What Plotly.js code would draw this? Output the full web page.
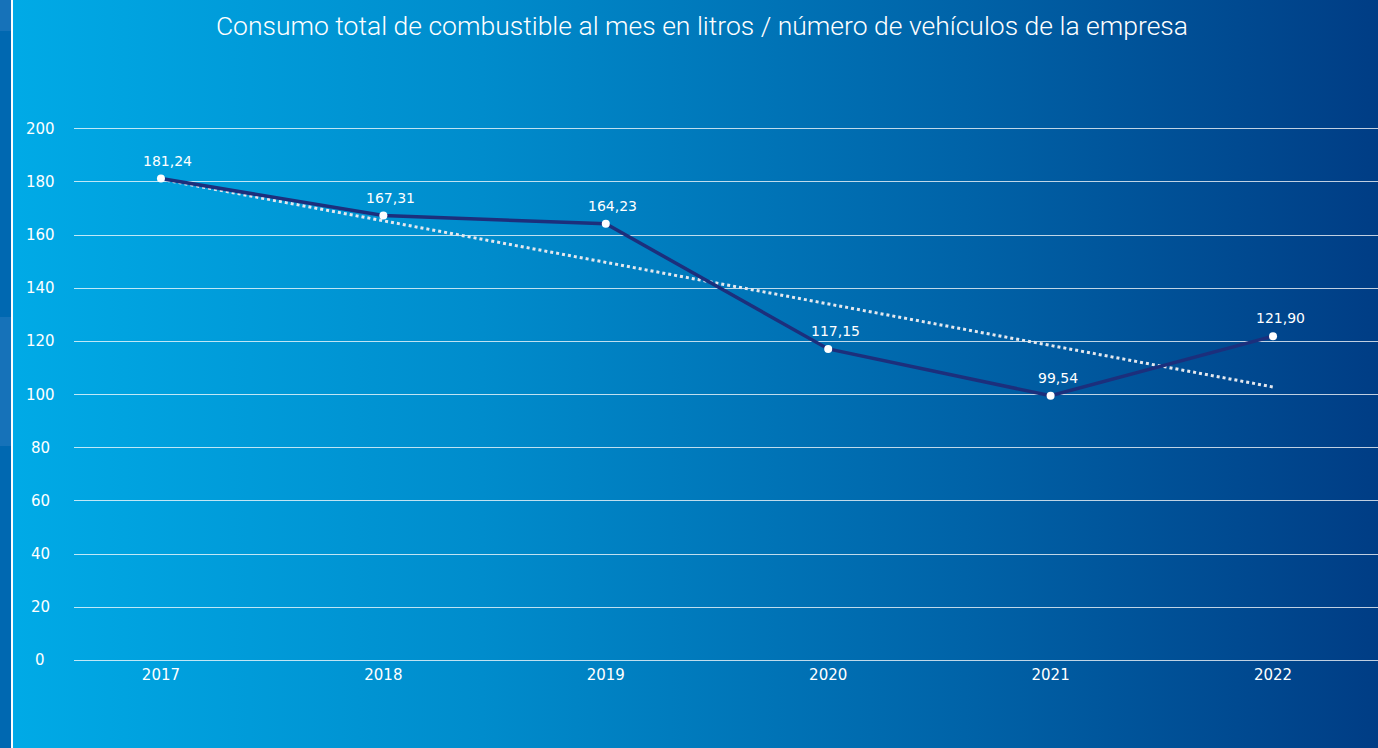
<!DOCTYPE html>
<html>
<head>
<meta charset="utf-8">
<script src="https://cdn.plot.ly/plotly-3.0.1.min.js"></script>
<style>
  html, body { margin: 0; padding: 0; }
  body {
    width: 1378px; height: 748px; overflow: hidden; position: relative;
    background: linear-gradient(to right, #00abe7 0%, #008ccc 35%, #0063a8 70%, #003d85 100%);
  }
  .strip { position: absolute; left: 0; width: 11px; }
  .edge { position: absolute; left: 11px; top: 0; width: 2px; height: 748px; background: #ffffff; }
  #plotDiv { position: absolute; left: 0; top: 0; width: 1378px; height: 748px; }
</style>
</head>
<body>
<div class="strip" style="top:0;height:31px;background:#1672b9"></div>
<div class="strip" style="top:31px;height:286px;background:#0068b1"></div>
<div class="strip" style="top:317px;height:129px;background:#1672b9"></div>
<div class="strip" style="top:446px;height:302px;background:#0068b1"></div>
<div class="edge"></div>
<div id="plotDiv"></div>
<script>
// data
var years = [2017, 2018, 2019, 2020, 2021, 2022];
var consumo = [181.24, 167.31, 164.23, 117.15, 99.54, 121.90];
var labels = ['181,24', '167,31', '164,23', '117,15', '99,54', '121,90'];
var trendYears = [2017, 2022];
var trendVals = [180.97, 102.82];
var yTicks = [0, 20, 40, 60, 80, 100, 120, 140, 160, 180, 200];

var fontFam = '"DejaVu Sans", Roboto, sans-serif';
var titleFam = 'Roboto, "Liberation Sans", sans-serif';

var trend = {
  x: trendYears,
  y: trendVals,
  mode: 'lines',
  type: 'scatter',
  hoverinfo: 'skip',
  line: { color: '#e4e8ee', width: 3, dash: '3px,3px' }
};

var serie = {
  x: years,
  y: consumo,
  mode: 'lines+markers',
  type: 'scatter',
  line: { color: '#1c2f7c', width: 3.5 },
  marker: { color: '#ffffff', size: 8 }
};

var notes = [];
for (var i = 0; i < years.length; i++) {
  notes.push({
    x: years[i], y: consumo[i], xref: 'x', yref: 'y',
    text: labels[i], showarrow: false, yshift: 18, xshift: 7,
    font: { family: fontFam, size: 14, color: '#ffffff' }
  });
}
// y tick labels, centred like in the original
for (var j = 0; j < yTicks.length; j++) {
  notes.push({
    x: -34 / 1304, y: yTicks[j], xref: 'paper', yref: 'y',
    xanchor: 'center', yanchor: 'middle',
    text: String(yTicks[j]), showarrow: false,
    font: { family: fontFam, size: 15, color: '#ffffff' }
  });
}

var layout = {
  width: 1378,
  height: 748,
  showlegend: false,
  paper_bgcolor: 'rgba(0,0,0,0)',
  plot_bgcolor: 'rgba(0,0,0,0)',
  font: { family: fontFam, size: 15, color: '#ffffff' },
  title: {
    text: 'Consumo total de combustible al mes en litros / número de vehículos de la empresa',
    font: { family: titleFam, size: 26.5, color: '#ffffff', weight: 300 },
    x: 0.5094, xanchor: 'center', y: 0.966, yanchor: 'middle'
  },
  margin: { l: 74, r: 0, t: 126, b: 85, pad: 0 },
  xaxis: {
    range: [2016.609, 2022.472],
    tickvals: years,
    ticktext: years.map(String),
    showgrid: false,
    zeroline: false,
    showline: false,
    ticks: '',
    tickfont: { family: fontFam, size: 15, color: '#ffffff' },
    ticklabelstandoff: 1
  },
  yaxis: {
    range: [-1, 201],
    tickvals: yTicks,
    showticklabels: false,
    showgrid: true,
    gridcolor: 'rgba(255,255,255,0.75)',
    gridwidth: 1,
    zeroline: false,
    showline: false,
    ticks: ''
  },
  annotations: notes
};

Plotly.newPlot('plotDiv', [trend, serie], layout, { displayModeBar: false, staticPlot: true });
</script>
</body>
</html>
